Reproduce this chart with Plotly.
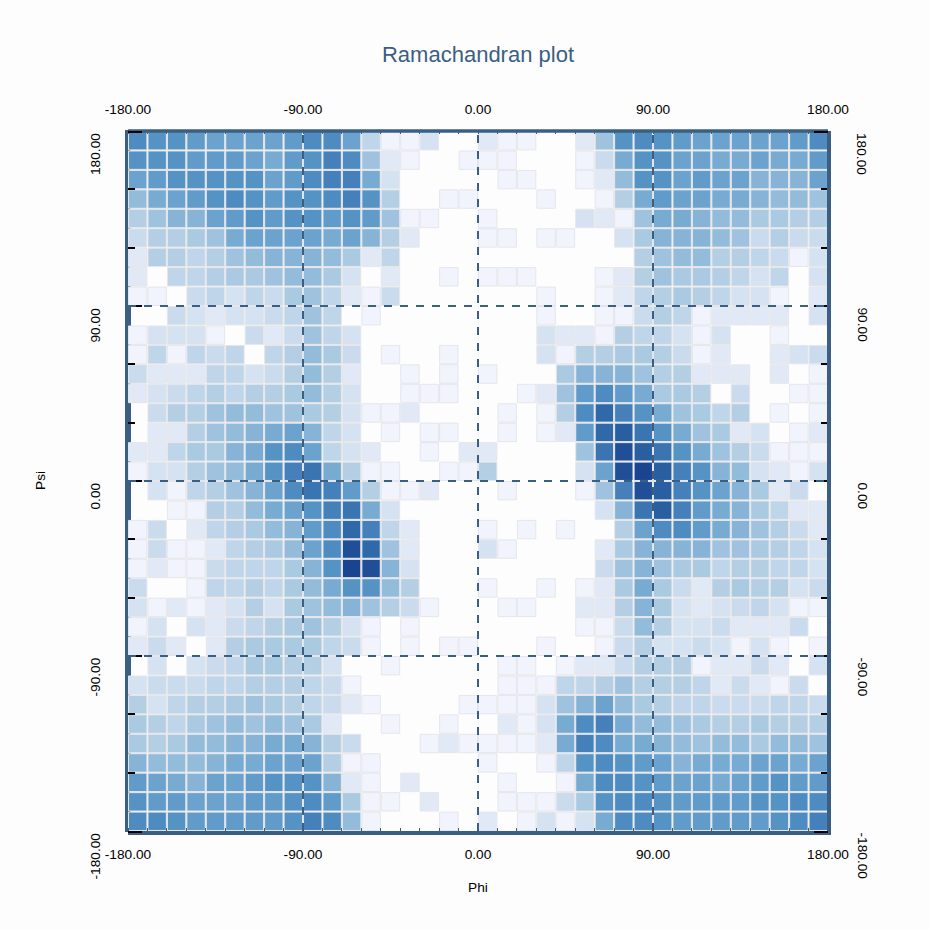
import plotly.graph_objects as go

# Bin centres of the 10 degree Ramachandran histogram
phi_centers = [-175 + 10 * i for i in range(36)]
psi_centers = [175 - 10 * i for i in range(36)]

# Density level per bin: rows run from psi = 180 down to psi = -180
density_rows = [
    [15,14,14,13,12,12,12,12,13,15,15,12,5,1,1,3,0,0,2,1,1,0,0,2,8,14,15,14,13,12,12,12,12,12,13,15],
    [14,14,14,13,13,13,12,11,13,14,16,15,8,2,1,0,0,1,1,1,0,0,0,1,4,11,14,14,12,12,11,11,12,11,11,13],
    [12,13,14,14,14,14,14,12,13,15,16,16,11,3,0,0,0,0,0,1,1,0,0,1,2,9,14,14,12,13,12,12,10,10,10,12],
    [9,11,12,13,14,15,14,13,14,14,15,16,14,6,0,0,1,1,0,0,0,1,0,0,1,6,11,13,12,12,11,11,10,9,9,8],
    [6,8,10,10,12,13,14,13,14,14,13,14,13,8,1,1,0,0,1,0,0,0,0,3,2,1,8,11,11,10,9,9,7,7,6,6],
    [4,6,6,7,8,11,12,12,12,12,11,12,10,6,2,0,0,0,1,1,0,1,1,0,0,3,7,10,10,10,9,8,4,6,4,4],
    [2,6,6,5,6,8,9,10,10,10,9,7,2,5,0,0,0,0,0,0,0,0,0,0,0,0,6,8,9,9,6,6,5,4,1,3],
    [2,0,5,5,6,7,7,8,9,9,7,3,0,2,0,0,1,0,1,1,1,0,0,0,1,2,6,8,7,7,6,5,3,5,0,3],
    [1,1,0,4,5,3,5,4,7,8,5,2,1,4,0,0,0,0,0,0,0,1,0,0,1,2,5,6,7,6,5,3,3,1,0,2],
    [0,0,4,3,2,3,3,4,5,8,5,0,1,0,0,0,0,0,0,0,0,1,0,0,1,1,4,6,5,1,2,2,2,2,0,3],
    [1,3,3,3,1,0,4,2,4,8,5,3,0,0,0,0,0,0,0,0,0,3,2,2,1,6,5,5,3,1,3,0,0,1,0,0],
    [1,5,1,5,4,5,0,5,6,9,7,4,0,1,0,0,1,0,0,0,0,3,1,6,6,7,7,6,4,1,2,0,0,2,3,4],
    [4,2,2,2,5,5,3,4,6,9,6,2,0,0,1,0,1,0,1,0,0,0,7,10,10,10,8,6,6,2,2,2,0,2,0,1],
    [2,3,4,5,6,5,6,6,7,9,6,3,0,0,1,1,1,0,0,0,1,2,8,13,15,13,11,7,7,6,0,4,0,0,1,1],
    [0,4,6,6,8,9,9,8,8,7,6,3,1,1,2,0,0,0,0,1,0,1,6,15,18,16,14,11,8,7,5,6,0,1,0,1],
    [0,2,2,6,8,9,10,11,12,10,5,3,0,1,0,1,1,0,0,1,0,1,2,13,18,19,17,14,11,8,7,2,3,0,1,2],
    [2,2,5,7,7,10,11,14,15,12,5,3,2,0,0,1,0,2,2,0,0,0,0,8,17,20,19,17,14,11,8,6,4,1,1,1],
    [1,3,3,6,8,9,11,14,16,17,11,6,1,1,0,0,1,1,6,0,0,0,0,3,12,20,21,19,16,14,10,9,3,2,1,3],
    [0,3,1,5,6,8,10,12,15,17,16,13,6,1,1,2,0,0,0,1,0,0,0,1,8,16,20,19,16,14,12,10,7,2,4,0],
    [0,0,1,1,6,6,9,11,12,14,16,17,11,3,0,0,0,0,0,0,0,0,0,0,3,10,17,19,16,13,11,10,7,5,2,2],
    [1,4,0,2,5,6,7,9,10,13,15,18,16,5,2,0,0,0,1,0,1,0,1,0,0,6,12,15,15,13,11,10,8,6,4,2],
    [1,4,1,1,2,5,6,7,9,12,15,20,18,8,2,0,0,0,3,1,0,0,0,0,2,7,10,10,10,10,8,8,7,6,5,3],
    [1,2,1,1,4,5,5,5,7,10,14,21,20,10,3,0,0,0,0,0,0,0,0,0,4,8,10,8,7,7,5,6,6,5,5,3],
    [4,0,0,1,5,5,6,5,7,9,11,14,14,9,6,0,0,0,1,0,0,1,0,1,2,7,11,7,4,2,6,7,6,6,3,4],
    [3,1,2,1,2,3,6,3,7,8,9,10,8,6,4,1,0,0,0,1,1,0,0,2,2,6,10,7,3,2,3,4,5,3,1,1],
    [1,3,0,3,2,4,5,6,7,8,6,3,1,0,1,0,0,0,0,0,0,0,0,1,1,4,9,6,3,3,4,2,2,2,4,0],
    [2,4,2,0,2,6,7,7,7,7,5,4,1,0,1,0,1,1,0,0,0,1,0,0,1,4,6,3,3,4,3,1,3,1,0,1],
    [0,3,0,3,4,5,7,7,6,6,3,0,0,1,0,0,0,0,0,1,1,0,1,2,2,4,6,6,6,1,2,2,4,2,0,3],
    [3,4,4,4,5,5,6,6,6,5,4,1,0,0,0,0,0,0,0,1,1,1,5,5,6,8,6,6,6,5,2,4,2,1,4,0],
    [6,3,5,6,6,7,8,7,6,5,4,2,1,0,0,0,0,1,1,1,1,3,8,10,12,9,7,6,5,5,4,4,4,5,5,4],
    [7,6,5,7,8,9,8,9,8,7,2,0,0,1,0,0,1,0,0,2,1,3,11,15,16,11,9,9,8,7,6,6,7,6,6,6],
    [7,6,7,9,9,10,10,11,11,10,6,4,0,0,0,1,2,1,1,1,1,2,11,16,15,11,11,10,9,8,9,9,7,9,9,8],
    [10,9,9,9,10,11,11,12,12,12,6,1,1,0,0,0,0,0,1,0,0,1,5,14,15,14,13,12,10,11,11,11,12,12,11,12],
    [13,12,11,10,12,12,13,14,14,14,10,2,1,0,2,0,0,0,0,1,0,0,1,11,15,15,14,13,12,12,11,12,13,14,13,13],
    [14,13,13,12,12,12,13,13,14,15,13,7,1,1,0,2,0,0,0,1,1,1,4,7,14,15,15,14,13,13,13,13,14,14,15,15],
    [15,15,14,13,13,13,13,13,14,16,15,9,1,0,0,0,1,0,2,0,1,3,1,3,11,15,15,14,13,13,13,13,13,14,15,16],
]

# Sequential palette, one colour per density level (1 to 21)
level_colors = [
    "#f1f4fd", "#e1e9f7", "#d5e2f1", "#c9dbed", "#bfd5e9", "#b4cfe4", "#aacae1",
    "#9fc3de", "#93bcdb", "#86b3d6", "#78abd2", "#6ca3ce", "#609bc9", "#5693c5",
    "#4e8bc0", "#4580ba", "#3a75b2", "#3069aa", "#295ea1", "#214f97", "#1b4490",
]

phi_ticks = [-180, -90, 0, 90, 180]
psi_ticks = [180, 90, 0, -90, -180]
tick_text = ["-180.00", "-90.00", "0.00", "90.00", "180.00"]
psi_minor = [-150, -120, -60, -30, 30, 60, 120, 150]
guide_angles = [-90, 0, 90]

FRAME = "#3b5f82"
INK = "#000000"
FONT = "Liberation Sans, Arial, sans-serif"
W, H = 929, 929
LEFT, TOP, SIDE = 128, 131, 700


def px_x(p):
    return (p - LEFT) / SIDE


def px_y(p):
    return 1 - (p - TOP) / SIDE


xs, ys, zs = [], [], []
for row, psi in zip(density_rows, psi_centers):
    assert len(row) == 36
    for level, phi in zip(row, phi_centers):
        if level:
            xs.append(phi)
            ys.append(psi)
            zs.append(level)

n = len(level_colors)
colorscale = []
for i, c in enumerate(level_colors):
    colorscale.append([i / (n - 1), c])

fig = go.Figure()
fig.add_trace(go.Scatter(
    x=xs, y=ys, mode="markers", hoverinfo="skip", showlegend=False,
    marker=dict(
        symbol="square", size=18.4, color=zs, cmin=1, cmax=n, colorscale=colorscale,
        line=dict(color="#e5e6ea", width=1.0),
    ),
))
# Second axis pair carries the top labels and the right-hand ticks
fig.add_trace(go.Scatter(x=[None], y=[None], xaxis="x2", yaxis="y2", showlegend=False, hoverinfo="skip"))

rect = lambda x0, y0, x1, y1, layer: dict(
    type="rect", xref="paper", yref="paper", layer=layer,
    x0=px_x(x0), x1=px_x(x1), y0=px_y(y0), y1=px_y(y1),
    fillcolor=FRAME, line=dict(width=0),
)
shapes = [rect(125, 130, 131, 832, "below")]
for a in guide_angles:
    dash = dict(color=FRAME, width=2, dash="8px,8px")
    shapes.append(dict(type="line", xref="x", yref="paper", x0=a, x1=a, y0=0, y1=1, line=dash, layer="above"))
    shapes.append(dict(type="line", xref="paper", yref="y", x0=0, x1=1, y0=a, y1=a, line=dash, layer="above"))
shapes += [
    rect(128, 129.3, 828, 132.8, "above"),
    rect(827, 131, 831, 835, "above"),
    rect(128, 831, 831, 835, "above"),
    # Corner ticks sit on top of the frame
    rect(128, 131, 142, 133, "above"),
    rect(128, 831, 142, 833, "above"),
    rect(814, 131, 828, 133, "above"),
    rect(814, 831, 828, 833, "above"),
]
for s in shapes[-4:]:
    s["fillcolor"] = INK

annotations = []
for v, t in zip(psi_ticks, ["180.00", "90.00", "0.00", "-90.00", "-180.00"]):
    annotations.append(dict(
        x=px_x(95), y=v, xref="paper", yref="y", text=t, textangle=-90, showarrow=False,
        xanchor="center", yanchor="top", font=dict(family=FONT, size=13.7, color=INK),
    ))
    annotations.append(dict(
        x=px_x(862), y=v, xref="paper", yref="y", text=t, textangle=90, showarrow=False,
        xanchor="center", yanchor="top", font=dict(family=FONT, size=13.7, color=INK),
    ))

common_x = dict(
    range=[-180, 180], tickvals=phi_ticks, ticktext=tick_text, showgrid=False, zeroline=False,
    showline=False, ticks="", tickfont=dict(family=FONT, size=13.7, color=INK), ticklabelstandoff=13,
    fixedrange=True,
    minor=dict(dtick=10, tick0=0, ticks="inside", ticklen=3, tickwidth=1, tickcolor=FRAME, showgrid=False),
)
common_y = dict(
    range=[-180, 180], tickvals=psi_ticks, showticklabels=False, showgrid=False, zeroline=False,
    showline=False, ticks="inside", ticklen=14, tickwidth=2, tickcolor=INK, fixedrange=True,
    minor=dict(tickvals=psi_minor, ticks="inside", ticklen=7, tickwidth=2, tickcolor=INK, showgrid=False),
)

fig.update_layout(
    width=W, height=H, margin=dict(l=LEFT, r=W - LEFT - SIDE, t=TOP, b=H - TOP - SIDE),
    paper_bgcolor="#fdfdfd", plot_bgcolor="#fdfdfd", showlegend=False,
    title=dict(
        text="Ramachandran plot", x=478 / W, xanchor="center", y=1 - 54 / H, yanchor="middle",
        font=dict(family=FONT, size=22, color=FRAME),
    ),
    xaxis=dict(
        **common_x, side="bottom", title=dict(text="Phi", standoff=21, font=dict(family=FONT, size=13.7, color=INK)),
    ),
    xaxis2=dict(**common_x, side="top", overlaying="x"),
    yaxis=dict(**common_y, side="left"),
    yaxis2=dict(**common_y, side="right", overlaying="y"),
    shapes=shapes,
    annotations=annotations + [dict(
        x=px_x(40), y=0, xref="paper", yref="y", text="Psi", textangle=-90, showarrow=False,
        xanchor="center", yanchor="middle", font=dict(family=FONT, size=13.7, color=INK),
    )],
)

fig.write_html("out.html")
